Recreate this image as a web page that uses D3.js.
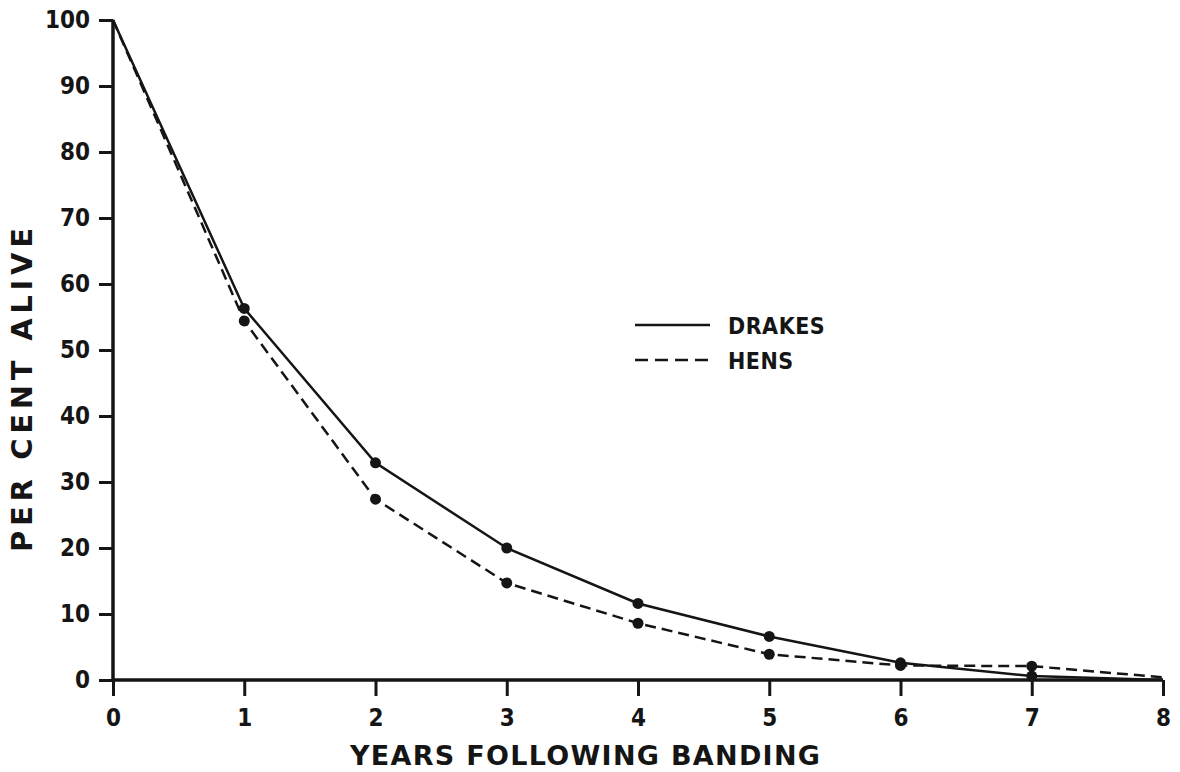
<!DOCTYPE html>
<html>
<head>
<meta charset="utf-8">
<script src="https://cdn.jsdelivr.net/npm/d3@7"></script>
<style>
  body { margin: 0; background: #fff; }
</style>
</head>
<body>
<svg id="chart" width="1180" height="772"></svg>
<script>
var years = [0, 1, 2, 3, 4, 5, 6, 7, 8];
var drakes = [100, 56.3, 32.9, 20, 11.6, 6.6, 2.6, 0.6, 0];
var hens = [100, 54.4, 27.4, 14.7, 8.6, 3.9, 2.2, 2.1, 0.4];
var yTicks = [0, 10, 20, 30, 40, 50, 60, 70, 80, 90, 100];
var legendLabels = ['DRAKES', 'HENS'];

var svg = d3.select('#chart');
var ink = '#151515';
var font = '"DejaVu Sans Condensed", "DejaVu Sans", sans-serif';
var wideFont = '"DejaVu Sans", sans-serif';

var x = d3.scaleLinear().domain([0, 8]).range([113, 1163]);
var y = d3.scaleLinear().domain([0, 100]).range([680, 20]);

// axes
var xAxis = svg.append('g')
    .attr('transform', 'translate(0,680)')
    .call(d3.axisBottom(x).tickValues(years).tickSize(16).tickPadding(13).tickFormat(d3.format('d')));
var yAxis = svg.append('g')
    .attr('transform', 'translate(113,0)')
    .call(d3.axisLeft(y).tickValues(yTicks).tickSize(14).tickPadding(9).tickFormat(d3.format('d')));

[xAxis, yAxis].forEach(function(g) {
  g.select('.domain').attr('stroke', ink).attr('stroke-width', 3.5);
  g.selectAll('.tick line').attr('stroke', ink).attr('stroke-width', 3);
  g.selectAll('.tick text')
      .attr('fill', ink)
      .attr('font-size', 24)
      .attr('font-weight', 'bold')
      .style('font-family', font);
});
xAxis.select('.domain').attr('d', 'M113,0H1163');
yAxis.select('.domain').attr('d', 'M0,680V20');

// lines
var line = d3.line()
    .x(function(d, i) { return x(years[i]); })
    .y(function(d) { return y(d); });

svg.append('path')
    .datum(hens)
    .attr('d', line)
    .attr('fill', 'none')
    .attr('stroke', ink)
    .attr('stroke-width', 2.5)
    .attr('stroke-dasharray', '11,6');

svg.append('path')
    .datum(drakes)
    .attr('d', line)
    .attr('fill', 'none')
    .attr('stroke', ink)
    .attr('stroke-width', 2.5);

[drakes, hens].forEach(function(series) {
  svg.append('g').selectAll('circle')
      .data(series.slice(1, 8))
      .join('circle')
      .attr('cx', function(d, i) { return x(years[i + 1]); })
      .attr('cy', function(d) { return y(d); })
      .attr('r', 5.5)
      .attr('fill', ink);
});

// legend
var legend = svg.append('g').attr('transform', 'translate(635,325)');
legendLabels.forEach(function(label, i) {
  legend.append('line')
      .attr('x1', 0).attr('x2', 75)
      .attr('y1', i * 35).attr('y2', i * 35)
      .attr('stroke', ink)
      .attr('stroke-width', 2.5)
      .attr('stroke-dasharray', i === 1 ? '13,7' : null);
  legend.append('text')
      .attr('x', 93)
      .attr('y', i * 35 + 9)
      .attr('font-size', 23)
      .attr('font-weight', 'bold')
      .attr('letter-spacing', 0.5)
      .attr('fill', ink)
      .style('font-family', font)
      .text(label);
});

// axis titles
svg.append('text')
    .attr('x', 350)
    .attr('y', 765)
    .attr('font-size', 27)
    .attr('font-weight', 'bold')
    .attr('fill', ink)
    .style('font-family', wideFont)
    .attr('textLength', 470)
    .attr('lengthAdjust', 'spacing')
    .text('YEARS FOLLOWING BANDING');

svg.append('text')
    .attr('transform', 'translate(32,552) rotate(-90)')
    .attr('font-size', 29)
    .attr('font-weight', 'bold')
    .attr('fill', ink)
    .style('font-family', wideFont)
    .attr('textLength', 324)
    .attr('lengthAdjust', 'spacing')
    .text('PER CENT ALIVE');
</script>
</body>
</html>
